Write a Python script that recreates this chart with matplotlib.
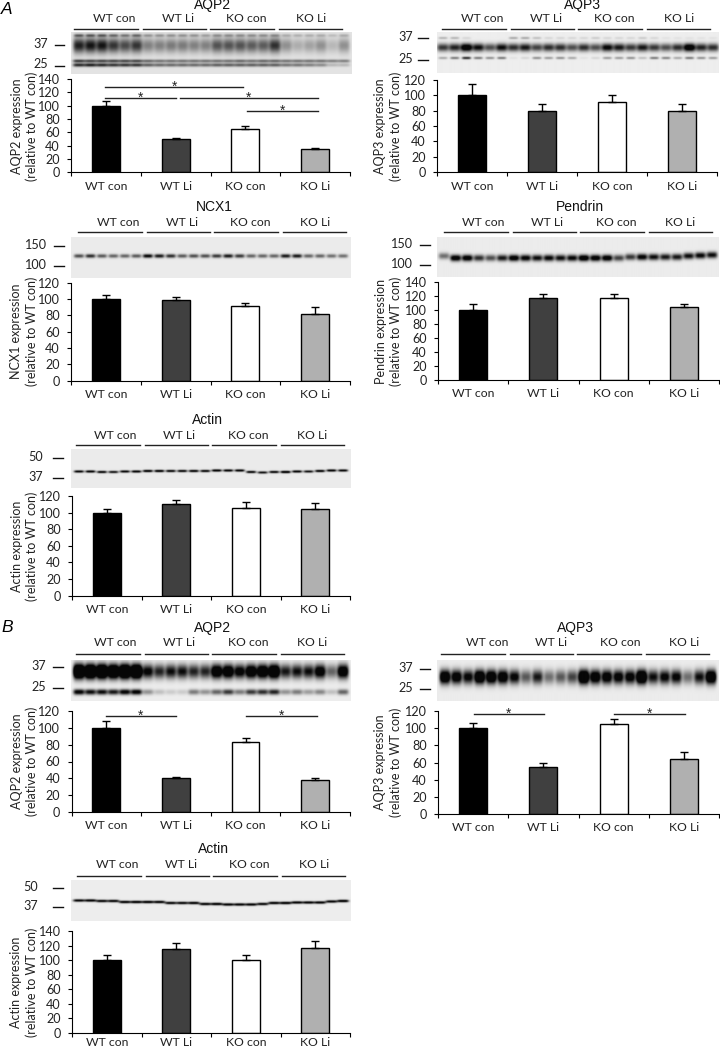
import numpy as np
import matplotlib
matplotlib.use("Agg")
import matplotlib.pyplot as plt

W, H = 720, 1049
plt.rcParams['font.family'] = ['Lato', 'DejaVu Sans']
mpl_fs = 8.8
groups = ["WT con", "WT Li", "KO con", "KO Li"]
bar_colors = ["#000000", "#404040", "#ffffff", "#b0b0b0"]

# bar heights / upper error
a_aqp2_vals = [100, 50, 65, 35]
a_aqp2_err = [6.5, 1.5, 4.5, 2]
a_aqp3_vals = [100, 80, 91, 79]
a_aqp3_err = [14, 8.5, 9, 9.5]
ncx1_vals = [100, 99, 92, 82]
ncx1_err = [5.5, 3.5, 3.5, 8.5]
pendrin_vals = [100, 118, 118, 104]
pendrin_err = [8.5, 4.5, 4.5, 5.5]
a_actin_vals = [100, 110, 106, 104]
a_actin_err = [4.5, 5, 6.5, 7]
b_aqp2_vals = [100, 40, 83, 38]
b_aqp2_err = [8, 1, 4.5, 2]
b_aqp3_vals = [100, 55, 105, 64]
b_aqp3_err = [5.5, 5, 5.5, 8]
b_actin_vals = [100, 116, 101, 117]
b_actin_err = [7.5, 8, 6, 9]

# significance lines: x start, x end (in bar units), height
a_aqp2_sig = [(0.49, 2.47, 128), (0.49, 1.5, 111.5), (1.56, 3.54, 111.5), (2.52, 3.54, 92)]
b_aqp2_sig = [(0.49, 1.5, 114), (2.5, 3.52, 114)]
b_aqp3_sig = [(0.51, 1.51, 117), (2.5, 3.51, 117)]

# lane darkness of each blot band, 24 lanes
aqp2_a_top = [.5, .5, .5, .45, .4, .45, .3, .3, .3, .3, .3, .25, .3, .3, .3, .3, .3, .3, .2, .2, .2, .2, .15, .2]
aqp2_a_main = [.9, .95, .95, .8, .7, .8, .45, .45, .48, .48, .45, .45, .66, .66, .66, .62, .62, .82, .38, .25, .3, .38, .2, .38]
aqp2_a_low1 = [.75, .7, .7, .7, .7, .7, .55, .5, .5, .5, .5, .5, .5, .5, .55, .5, .55, .55, .5, .5, .5, .5, .45, .45]
aqp2_a_low2 = [.85, .9, .85, .8, .8, .8, .6, .55, .55, .55, .55, .55, .6, .6, .6, .6, .6, .6, .5, .5, .45, .4, .2, .2]
aqp3_a_top = [.25, .25, .1, 0, 0, 0, .3, .3, .2, .1, .1, .1, .1, .15, .1, .1, .1, .15, .1, .05, .05, .05, .05, .05]
aqp3_a_main = [.8, .9, 1.3, 1, .7, 1, .85, .95, .75, .85, .85, .7, .85, .7, 1.05, .95, .8, .95, .8, .7, .85, 1.3, .9, .85]
aqp3_a_low = [.3, .5, .85, .5, .4, .5, .05, .1, .4, .35, .4, .3, .05, .1, .35, .35, .4, .2, .5, .45, .3, .5, .4, .35]
ncx1_main = [.7, .85, .65, .6, .6, .65, 1.05, .95, .85, .65, .7, .7, .8, .95, .8, .6, .6, .6, .95, .95, .6, .6, .55, .55]
pendrin_main = [.55, 1.2, 1.2, .85, .7, .95, 1.2, 1.1, 1, 1.05, 1, 1.05, 1.3, 1.2, 1.2, .75, .8, 1.1, 1, .95, .95, 1, 1.05, 1]
a_actin_main = [1.1, 1.15, 1.1, 1, 1.1, 1.15, 1.2, 1.2, 1.1, 1.1, 1.15, 1.1, 1.2, 1.15, 1.15, 1.1, 1, 1.1, 1.3, 1.15, 1, 1.15, 1.15, 1.1]
aqp2_b_main = [2.2, 2.2, 2.2, 2, 2.2, 2.2, 1.1, .9, 1, 1, .9, .9, 1.5, 1.5, 1.2, 1.5, 1.6, 1.8, .95, 1, 1, 1.3, .6, 1.4]
aqp2_b_low = [1.1, 1, 1, .95, 1.1, 1.1, .4, .2, .15, .15, .5, .4, .6, .8, .5, .8, .85, .9, .4, .5, .35, .45, .2, .6]
aqp3_b_main = [1.5, 1.3, 1.1, 1.6, 1.5, 1.4, 1.1, .65, .95, .55, .65, .75, 1.8, 1.4, 1.3, 1.2, 1.2, 1.8, 1, 1.1, 1.1, .55, 1, 1.6]
b_actin_main = [1.1, 1.15, 1.1, 1.1, 1.15, 1.2, 1.2, 1.15, 1.1, 1.1, 1.15, 1.15, 1.2, 1.15, 1.15, 1.15, 1.1, 1.15, 1.2, 1.15, 1.15, 1.15, 1.1, 1.2]
# band shift per lane (px, + is down)
pendrin_shift = [-1, 1, 1, 1, 1, 1, 1, 1, 1, 1, 1, 1, 1, 1, 1, 1, 0, 0, 0, 0, 0, -1, -1.5, -2]
a_actin_shift = [.5, .5, 1, 1, .5, .5, 0, 0, 0, 0, 0, 0, -.5, -.5, -.5, 1, 1.5, 1, 1, .5, .5, 0, -.5, -.5]
b_actin_shift = [-1.5, -1.5, -1, -1, 0, 0, 0, 0, 1, 1, 1, 2, 2, 2.5, 2.5, 2.5, 2, 1, 1, .5, .5, .5, -.5, -1]


def blot(x0, x1, y0, y1, bands, bg=236, margin=8):
    # bands: (lane darkness, y px on the page, sigma y, sigma x, shifts)
    s = 3
    w, h = int((x1 - x0) * s), int((y1 - y0) * s)
    xx, yy = np.meshgrid((np.arange(w) + .5) / s + x0, (np.arange(h) + .5) / s + y0)
    dark = np.zeros((h, w))
    lanes = np.linspace(x0 + margin, x1 - margin, 24)
    for amps, yc, sy, sx, shift in bands:
        shift = shift if shift is not None else [0] * 24
        for xc, a, d in zip(lanes, amps, shift):
            dark += a * np.exp(-((xx - xc) / sx) ** 4 - ((yy - yc - d) / sy) ** 2)
    img = bg * (1 - np.clip(dark, 0, 1) * 0.97)
    ax = fig.add_axes([x0 / W, 1 - y1 / H, (x1 - x0) / W, (y1 - y0) / H])
    ax.imshow(img, cmap="gray", vmin=0, vmax=255, aspect="auto", interpolation="bilinear")
    ax.axis("off")


def bars(l, r, y0, top, ymax, step, vals, err, sig=(), pad=6):
    ax = fig.add_axes([l / W, 1 - y0 / H, (r - l) / W, (y0 - top) / H])
    x = np.arange(4) + .5
    ax.bar(x, vals, width=.4, color=bar_colors, edgecolor="black", linewidth=1)
    ax.errorbar(x, vals, yerr=[[0] * 4, err], fmt="none", ecolor="black", elinewidth=1, capsize=3.2, capthick=1)
    for s in sig:
        ax.plot(s[:2], [s[2], s[2]], color="#222222", lw=1, clip_on=False)
        ax.annotate("*", ((s[0] + s[1]) / 2, s[2]), xytext=(0, -2.7), textcoords="offset points",
                    ha="center", va="baseline", fontsize=10, family="Liberation Sans", color="#222222")
    ax.set_xlim(0, 4)
    ax.set_ylim(0, ymax)
    ax.set_yticks(np.arange(0, ymax + 1, step))
    ax.set_xticks(range(5))
    ax.set_xticklabels([])
    ax.set_xticks(x, groups, minor=True)
    ax.tick_params(axis="x", which="minor", length=0, pad=pad, labelsize=mpl_fs, labelcolor="#222222")
    ax.tick_params(axis="x", which="major", length=3.2, width=.8)
    ax.tick_params(axis="y", length=3.2, width=.8, pad=5, labelsize=mpl_fs + .3, labelcolor="#222222")
    for k in ("top", "right"):
        ax.spines[k].set_visible(False)
    for k in ("left", "bottom"):
        ax.spines[k].set_linewidth(.8)
    ax.patch.set_alpha(0)


def header(title, tx, ty, line_x, line_y, label_x, label_y):
    ov.text(tx, ty, title, ha="center", va="center", fontsize=10, family="Liberation Sans", color="#111111")
    for a, b in ((0, 64), (69, 132), (136, 200), (205, 268)):
        ov.plot([line_x + a, line_x + b], [line_y, line_y], color="#222222", lw=1)
    for lx, g in zip(label_x, groups):
        ov.text(lx, label_y, g, ha="center", va="center", fontsize=mpl_fs, color="#222222")


def marks(labels, ys, lab_x, d0, d1):
    for t, y in zip(labels, ys):
        ov.plot([d0, d1], [y, y], color="#111111", lw=1)
        ov.text(lab_x, y - 1, t, ha="center", va="center", fontsize=mpl_fs + .3, color="#222222")


def ylab(name, x, ycen):
    ov.text(x, ycen, name + " expression\n(relative to WT con)", rotation=90, ha="center", va="center",
            fontsize=mpl_fs + .2, linespacing=1.3, multialignment="center", color="#222222")


fig = plt.figure(figsize=(W / 100, H / 100), dpi=100)
ov = fig.add_axes([0, 0, 1, 1], zorder=5)
ov.set_xlim(0, W)
ov.set_ylim(H, 0)
ov.axis("off")

ov.text(1, 9, "A", style="italic", fontsize=12.5, family="Liberation Sans", va="center")
ov.text(1, 627, "B", style="italic", fontsize=12.5, family="Liberation Sans", va="center")

# A AQP2
header("AQP2", 213, 5, 74, 28.5, [114, 178, 246, 311], 18.5)
marks(["37", "25"], [45, 65.5], 41, 55, 64)
blot(71, 352, 32, 74, [(aqp2_a_top, 35.5, 1.5, 5, None), (aqp2_a_main, 45.5, 7.5, 5.8, None),
                       (aqp2_a_low1, 61, 1.6, 6, None), (aqp2_a_low2, 65, 1.8, 6, None)], bg=228)
bars(71, 350, 172.3, 79, 140, 20, a_aqp2_vals, a_aqp2_err, a_aqp2_sig)
ylab("AQP2", 24.5, 126)

# A AQP3
header("AQP3", 582, 5, 442, 28.5, [482, 546, 614, 679], 18.5)
marks(["37", "25"], [38, 60], 406, 418, 428)
blot(437, 718, 32, 73, [(aqp3_a_top, 38, 1.2, 4.5, None), (aqp3_a_main, 47.5, 4, 5.8, None),
                        (aqp3_a_low, 58, 1.3, 4.5, None)], bg=238, margin=6)
bars(437.3, 717.3, 172.3, 79.7, 120, 20, a_aqp3_vals, a_aqp3_err)
ylab("AQP3", 388, 126)

# NCX1
header("NCX1", 214, 207, 78, 232.3, [118, 182, 250, 315], 222)
marks(["150", "100"], [246, 266], 36, 54, 64)
blot(71, 351, 237, 278, [(ncx1_main, 256, 1.9, 5, None)], bg=235)
bars(71, 350, 380.7, 282.7, 120, 20, ncx1_vals, ncx1_err)
ylab("NCX1", 24, 331)

# Pendrin
header("Pendrin", 580, 207, 443.7, 232.3, [483, 547, 616, 680], 222)
marks(["150", "100"], [245, 265], 402, 420, 430)
blot(437, 718, 237, 277, [(pendrin_main, 257, 3.2, 5.4, pendrin_shift)], bg=236, margin=7)
bars(438, 719, 379.7, 282.3, 140, 20, pendrin_vals, pendrin_err)
ylab("Pendrin", 388.5, 331)

# A Actin
header("Actin", 207, 420, 75.5, 445, [115, 179, 248, 312], 435.7)
marks(["50", "37"], [458, 478], 36, 53, 63)
blot(71, 351, 449, 488, [(a_actin_main, 471, 1.2, 5, a_actin_shift)], bg=235)
bars(72, 350, 595.7, 496, 120, 20, a_actin_vals, a_actin_err)
ylab("Actin", 24.5, 546)

# B AQP2
header("AQP2", 213, 628, 75.5, 654.3, [115, 179, 248, 312], 643)
marks(["37", "25"], [667, 688], 39, 53, 63)
blot(71, 351, 660, 701, [(aqp2_b_main, 671.5, 7, 5.6, None), (aqp2_b_low, 692, 2.8, 5.6, None)], bg=238)
bars(71.5, 350, 812, 711, 120, 20, b_aqp2_vals, b_aqp2_err, b_aqp2_sig)
ylab("AQP2", 24.5, 761)

# B AQP3
header("AQP3", 575, 628, 441, 654.3, [487, 551, 620, 684], 643)
marks(["37", "25"], [669, 689], 406, 420, 430)
blot(437, 718, 660, 701, [(aqp3_b_main, 677, 7, 5.4, None)], bg=236, margin=8)
bars(438, 719, 814, 711, 120, 20, b_aqp3_vals, b_aqp3_err, b_aqp3_sig)
ylab("AQP3", 388, 762)

# B Actin
header("Actin", 213, 849, 77, 876.3, [117, 181, 249, 314], 865)
marks(["50", "37"], [888, 907], 31, 53, 63)
blot(71, 351, 880, 921, [(b_actin_main, 902, 1.3, 5.8, b_actin_shift)], bg=237)
bars(72, 350, 1032.7, 931.3, 140, 20, b_actin_vals, b_actin_err, pad=3.4)
ylab("Actin", 24, 982)

fig.savefig("out.png", dpi=100)
